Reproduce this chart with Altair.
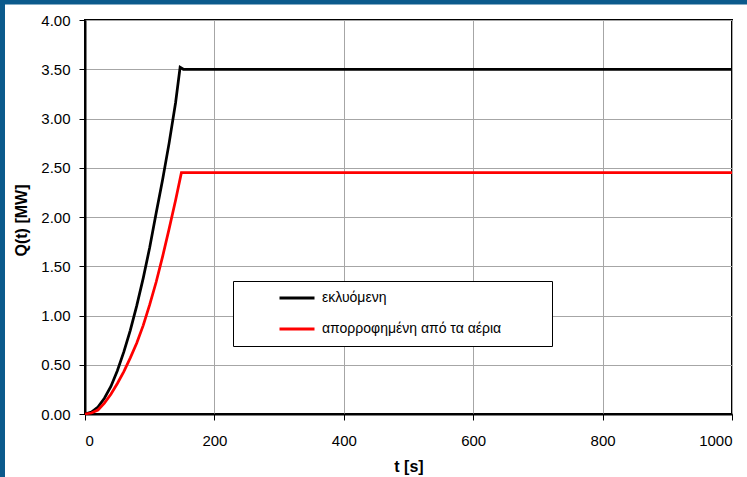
import altair as alt
import pandas as pd

# ---- data ----
series_names = ["εκλυόμενη", "απορροφημένη από τα αέρια"]
series_colors = ["#000000", "#FF0000"]

released_t = [0, 10, 20, 30, 40, 50, 60, 70, 80, 90, 100, 110, 120, 130, 140, 147, 152, 1000]
released_q = [0.00, 0.02, 0.07, 0.16, 0.28, 0.44, 0.63, 0.85, 1.10, 1.38, 1.69, 2.04, 2.38, 2.75, 3.16, 3.52, 3.50, 3.50]

absorbed_t = [0, 10, 20, 30, 40, 50, 60, 70, 80, 90, 100, 110, 120, 130, 140, 149, 1000]
absorbed_q = [0.00, 0.01, 0.04, 0.11, 0.20, 0.31, 0.43, 0.57, 0.72, 0.90, 1.11, 1.34, 1.60, 1.88, 2.17, 2.45, 2.45]

x_ticks = [0, 200, 400, 600, 800, 1000]
y_ticks = [0.0, 0.5, 1.0, 1.5, 2.0, 2.5, 3.0, 3.5, 4.0]

df = pd.concat([
    pd.DataFrame({"t": released_t, "Q": released_q, "series": series_names[0]}),
    pd.DataFrame({"t": absorbed_t, "Q": absorbed_q, "series": series_names[1]}),
], ignore_index=True)

FONT = "Liberation Sans"
BLUE = "#0B5A8C"

lines = alt.Chart(df).mark_line(strokeWidth=2.75, clip=False).encode(
    x=alt.X("t:Q",
            scale=alt.Scale(domain=[0, 1000], nice=False),
            axis=alt.Axis(values=x_ticks, format="d", title="t [s]",
                          labelPadding=13, titleX=323.5, titleY=52,
                          titleBaseline="middle", titleAlign="center")),
    y=alt.Y("Q:Q",
            scale=alt.Scale(domain=[0, 4], nice=False),
            axis=alt.Axis(values=y_ticks, format=".2f", title="Q(t) [MW]",
                          labelPadding=9, titleX=-64, titleY=200,
                          titleAngle=-90, titleBaseline="middle", titleAlign="center")),
    color=alt.Color("series:N",
                    scale=alt.Scale(domain=series_names, range=series_colors),
                    legend=alt.Legend(title="\u00a0", titleOrient="right", titlePadding=42,
                                      titleFontSize=14,
                                      orient="none", legendX=148, legendY=261,
                                      strokeColor="#000000", fillColor="#FFFFFF",
                                      padding=9, symbolOffset=36, symbolType="stroke",
                                      symbolSize=1225, symbolStrokeWidth=3,
                                      clipHeight=16, rowPadding=15, labelOffset=6,
                                      labelFont=FONT, labelFontSize=14,
                                      labelColor="#000000", labelLimit=400)),
)

border_left = alt.Chart().mark_rule(color=BLUE, strokeWidth=5).encode(
    x=alt.value(-82.5), y=alt.value(-20), y2=alt.value(460))
border_top = alt.Chart().mark_rule(color=BLUE, strokeWidth=4.5).encode(
    x=alt.value(-85), x2=alt.value(665), y=alt.value(-17.75))

chart = alt.layer(lines, border_left, border_top).properties(
    width=647, height=394,
    autosize=alt.AutoSizeParams(type="none"),
    padding={"left": 85, "top": 20, "right": 15, "bottom": 63},
    background="#FFFFFF",
).configure_view(
    stroke="#000000", strokeWidth=2
).configure_axis(
    domainColor="#000000", domainWidth=2,
    tickColor="#000000", tickSize=6, tickWidth=1,
    gridColor="#A6A6A6", gridWidth=1,
    labelFont=FONT, labelFontSize=15, labelColor="#000000",
    titleFont=FONT, titleFontSize=16, titleFontWeight="bold", titleColor="#000000",
)

chart.save("out.html", embed_options={"renderer": "svg", "actions": False})
